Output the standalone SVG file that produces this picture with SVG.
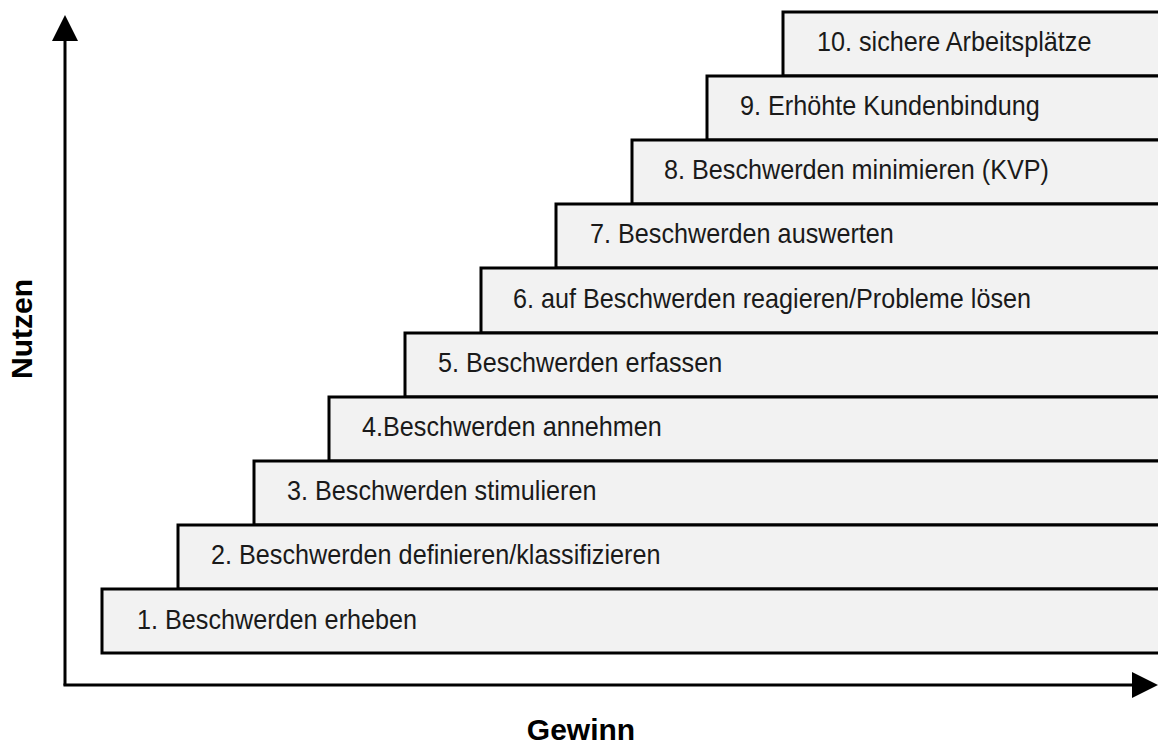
<svg xmlns="http://www.w3.org/2000/svg" width="1158" height="745" viewBox="0 0 1158 745">
<style>
.box{fill:#f2f2f2;stroke:#000;stroke-width:3}
.lbl{font-family:"Liberation Sans",Arial,sans-serif;font-size:28px;fill:#1a1a1a}
.ax{font-family:"Liberation Sans",Arial,sans-serif;font-size:30px;font-weight:bold;fill:#000}
.axis{stroke:#000;stroke-width:3;fill:none}
</style>
<defs>
<marker id="arr" markerUnits="userSpaceOnUse" markerWidth="26" markerHeight="26" viewBox="0 0 26 26" refX="1" refY="13" orient="auto">
<path d="M0,0 L26,13 L0,26 z" fill="#000"/>
</marker>
</defs>
<rect width="1158" height="745" fill="#fff"/>
<g id="step10"><rect class="box" x="783" y="12" width="400" height="64"/><text class="lbl" transform="translate(817,51) scale(0.9,1)">10. sichere Arbeitsplätze</text></g>
<g id="step9"><rect class="box" x="707" y="76" width="480" height="64"/><text class="lbl" transform="translate(740,115) scale(0.9,1)">9. Erhöhte Kundenbindung</text></g>
<g id="step8"><rect class="box" x="632" y="140" width="560" height="64"/><text class="lbl" transform="translate(664,179) scale(0.9,1)">8. Beschwerden minimieren (KVP)</text></g>
<g id="step7"><rect class="box" x="556" y="204" width="640" height="64"/><text class="lbl" transform="translate(590,243) scale(0.9,1)">7. Beschwerden auswerten</text></g>
<g id="step6"><rect class="box" x="481" y="268" width="720" height="65"/><text class="lbl" transform="translate(513,308) scale(0.9,1)">6. auf Beschwerden reagieren/Probleme lösen</text></g>
<g id="step5"><rect class="box" x="405" y="333" width="800" height="64"/><text class="lbl" transform="translate(438,372) scale(0.9,1)">5. Beschwerden erfassen</text></g>
<g id="step4"><rect class="box" x="329" y="397" width="880" height="64"/><text class="lbl" transform="translate(362,436) scale(0.9,1)">4.Beschwerden annehmen</text></g>
<g id="step3"><rect class="box" x="254" y="461" width="960" height="64"/><text class="lbl" transform="translate(287,500) scale(0.9,1)">3. Beschwerden stimulieren</text></g>
<g id="step2"><rect class="box" x="178" y="525" width="1040" height="64"/><text class="lbl" transform="translate(211,564) scale(0.9,1)">2. Beschwerden definieren/klassifizieren</text></g>
<g id="step1"><rect class="box" x="102" y="589" width="1120" height="64"/><text class="lbl" transform="translate(137,629) scale(0.9,1)">1. Beschwerden erheben</text></g>
<g id="connectors">
<line class="axis" x1="65" y1="685.5" x2="65" y2="40" marker-end="url(#arr)"/>
<line class="axis" x1="63.5" y1="685" x2="1133" y2="685" marker-end="url(#arr)"/>
</g>
<g id="axis-labels">
<text class="ax" x="581" y="740" text-anchor="middle">Gewinn</text>
<text class="ax" transform="translate(32,329) rotate(-90)" text-anchor="middle">Nutzen</text>
</g>
</svg>
